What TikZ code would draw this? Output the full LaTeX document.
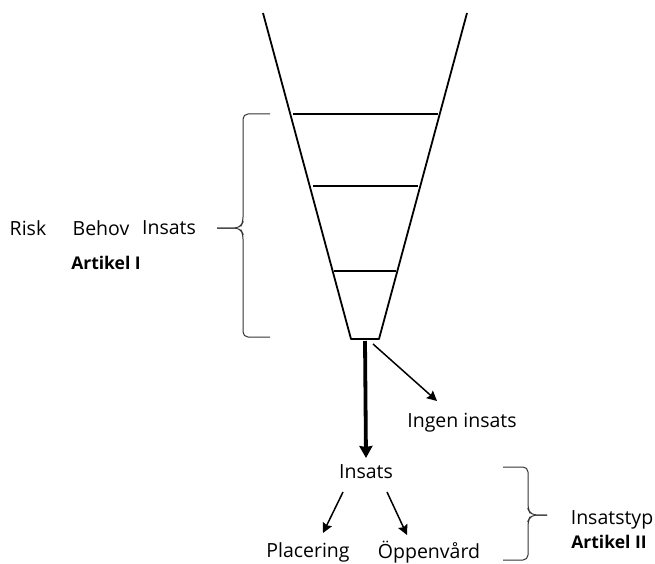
\documentclass[tikz,border=0pt]{standalone}
\usepackage{fontspec}
\setmainfont{Open Sans}[Ligatures=NoCommon]
\usetikzlibrary{arrows.meta}
\begin{document}
\begin{tikzpicture}[x=1pt,y=-1pt,
  funnel/.style={line width=1.8pt, black},
  bracel/.style={line width=1pt, black!80, rounded corners=5pt},
  lbl/.style={font=\fontsize{19.5}{22}\selectfont, inner sep=0pt, anchor=center},
  blbl/.style={font=\fontsize{17.5}{22}\selectfont\bfseries, inner sep=0pt, anchor=center},
  thinarr/.style={line width=1.5pt, -{Stealth[length=10pt,width=10pt,inset=1.5pt]}},
  thickarr/.style={line width=3.8pt, -{Stealth[length=12pt,width=13pt,inset=1pt]}}]
\useasboundingbox (0,0) rectangle (655,564);
% funnel
\coordinate (lt) at (263,13);
\coordinate (lb) at (351,339);
\coordinate (rt) at (467,13);
\coordinate (rb) at (379,339);
\draw[funnel, line join=round] (lt) -- (lb) -- (rb) -- (rt);
\draw[funnel] (293,114) -- (438,114);
\draw[funnel] (313,186) -- (418,186);
\draw[funnel] (334,271) -- (396,271);
% left brace
\draw[bracel] (270,114) -- (243,114) -- (243,222) -- (240,228) -- (217,228);
\draw[bracel] (270,337) -- (243,337) -- (243,234) -- (240,228) -- (217,228);
% right brace
\draw[bracel] (503,467) -- (528,467) -- (528,509) -- (531,515) -- (547,515);
\draw[bracel] (503,560) -- (528,560) -- (528,521) -- (531,515) -- (547,515);
% labels
\node[lbl] (risk) at (28,228) {Risk};
\node[lbl] (behov) at (101,228) {Behov};
\node[lbl] (insatsL) at (169,228) {Insats};
\node[blbl] (art1) at (106,263) {Artikel I};
\node[lbl] (ingen) at (462,423) {Ingen insats};
\node[lbl] (insats) at (366,472) {Insats};
\node[lbl] (plac) at (308,552) {Placering};
\node[lbl] (oppen) at (429,552) {Öppenvård};
\node[lbl] (typ) at (612,520) {Insatstyp};
\node[blbl] (art2) at (609,542) {Artikel II};
% arrows
\coordinate (bot) at (365,341);
\coordinate (bot2) at (373,344);
\draw[thickarr] (bot) -- (insats.north |- 0,458);
\draw[thinarr] (bot2) -- (437,401);
\draw[thinarr] (343,492) -- (323,533);
\draw[thinarr] (387,492) -- (407,535);
\end{tikzpicture}
\end{document}
